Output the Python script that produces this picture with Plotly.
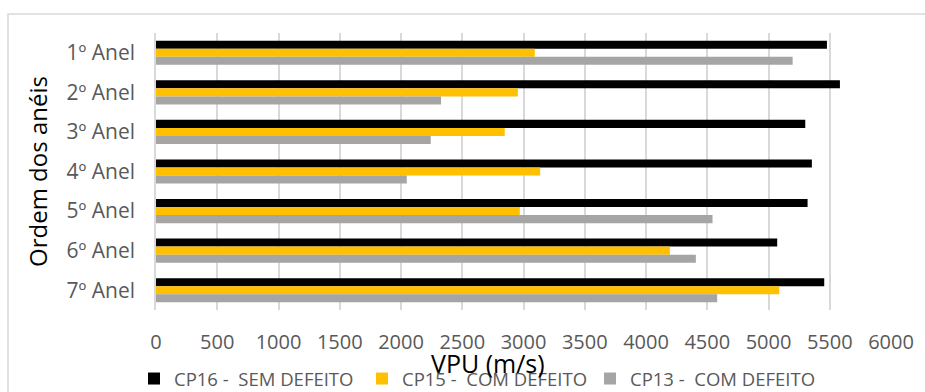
import plotly.graph_objects as go

# Ring order (top to bottom) and ultrasonic pulse velocity per specimen, m/s
aneis = ["1º Anel", "2º Anel", "3º Anel", "4º Anel", "5º Anel", "6º Anel", "7º Anel"]
cp16_sem_defeito = [5477, 5583, 5300, 5354, 5319, 5071, 5455]
cp15_com_defeito = [3092, 2954, 2847, 3136, 2970, 4195, 5088]
cp13_com_defeito = [5197, 2327, 2243, 2047, 4543, 4407, 4581]

series = [
    ("CP16 -  SEM DEFEITO", cp16_sem_defeito, "#000000"),
    ("CP15 -  COM DEFEITO", cp15_com_defeito, "#FFC000"),
    ("CP13 -  COM DEFEITO", cp13_com_defeito, "#A5A5A5"),
]

W, H = 925, 392
L, R, T, B = 156, 34, 33, 82
pw, ph = W - L - R, H - T - B


def px_x(x):
    return (x - L) / pw


def px_y(y):
    return (H - B - y) / ph


FONT = "Open Sans"
GREY_TXT = "#595959"

fig = go.Figure()
for name, vals, color in series:
    fig.add_trace(go.Bar(
        y=aneis, x=vals, name=name, orientation="h",
        marker=dict(color=color, line=dict(width=0)),
    ))

fig.update_layout(
    width=W, height=H,
    margin=dict(l=L, r=R, t=T, b=B, autoexpand=False),
    paper_bgcolor="white", plot_bgcolor="white",
    barmode="group", bargap=0.39, bargroupgap=0,
    font=dict(family=FONT, color=GREY_TXT, size=19),
    xaxis=dict(
        range=[0, 6000], dtick=500, tick0=0,
        showgrid=True, gridcolor="#d9d9d9", gridwidth=1.5,
        zeroline=False, showline=False, ticks="",
        ticklabelstandoff=18,
        tickfont=dict(family=FONT, size=20, color=GREY_TXT),
        fixedrange=True,
    ),
    yaxis=dict(
        autorange="reversed", showgrid=False, zeroline=False,
        showline=True, linecolor="#d9d9d9", linewidth=1.5,
        ticks="", ticklabelstandoff=15,
        tickfont=dict(family=FONT, size=21, color=GREY_TXT),
        fixedrange=True,
    ),
    legend=dict(
        orientation="h", x=px_x(134), xanchor="left",
        y=px_y(379), yanchor="middle",
        font=dict(family=FONT, size=18.5, color=GREY_TXT),
        bgcolor="rgba(0,0,0,0)", traceorder="normal",
        entrywidth=183, entrywidthmode="pixels",
    ),
    showlegend=True,
)

# Axis titles
fig.add_annotation(
    text="VPU (m/s)", xref="paper", yref="paper",
    x=px_x(488), y=px_y(363), xanchor="center", yanchor="middle",
    showarrow=False, font=dict(family=FONT, size=25, color="#000000"),
)
fig.add_annotation(
    text="Ordem dos anéis", xref="paper", yref="paper",
    x=px_x(37), y=px_y(172), xanchor="center", yanchor="middle",
    textangle=-90, showarrow=False,
    font=dict(family=FONT, size=24, color="#000000"),
)

# Chart-area frame
fig.add_shape(
    type="rect", xref="paper", yref="paper",
    x0=px_x(8), x1=px_x(960), y0=px_y(420), y1=px_y(14),
    line=dict(color="#d9d9d9", width=1.5), fillcolor="rgba(0,0,0,0)",
    layer="below",
)

fig.write_html("out.html", config={"displayModeBar": False})
